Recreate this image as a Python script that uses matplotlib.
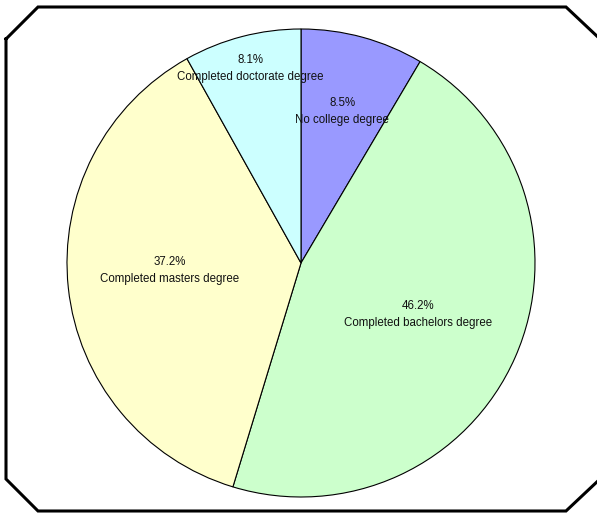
import numpy as np
import matplotlib.pyplot as plt
from matplotlib.lines import Line2D

labels = ['No college degree', 'Completed bachelors degree',
          'Completed masters degree', 'Completed doctorate degree']
shares = [8.5, 46.2, 37.2, 8.1]
colors = ['#9999FF', '#CCFFCC', '#FFFFCC', '#CCFFFF']
label_dist = [0.67, 0.548, 0.561, 0.859]
label_turn = [0, 0, -2.8, 0]  # small angular nudge, degrees

W, H = 597, 513
fig = plt.figure(figsize=(W / 100, H / 100), dpi=100)

# pie centred at (301, 263) px, radius 234 px
cx, cy, r = 301, 263, 234
ax = fig.add_axes([(cx - r) / W, (H - cy - r) / H, 2 * r / W, 2 * r / H])
wedges, _ = ax.pie(shares, colors=colors, startangle=90, counterclock=False,
                   radius=1, wedgeprops=dict(edgecolor='black', linewidth=0.8))
ax.set_xlim(-1, 1)
ax.set_ylim(-1, 1)
ax.set_aspect('auto')
ax.axis('off')

for w, lab, val, d, t in zip(wedges, labels, shares, label_dist, label_turn):
    ang = np.deg2rad((w.theta1 + w.theta2) / 2 + t)
    x, y = d * np.cos(ang), d * np.sin(ang)
    ax.text(x, y, f'{val:.1f}%\n{lab}', ha='center', va='center',
            fontsize=8.3, family='Liberation Sans', color='#111111',
            linespacing=1.6)

# octagonal frame around the chart (pixel coordinates, y from top)
L, T, R, B, c = 6, 7, 600, 511, 32
px = [L, L + c, R - c - 2, R, R, R - c - 2, L + c, L, L]
py = [T + c, T, T, T + c, B - c, B, B, B - c, T + c]
fig.add_artist(Line2D([x / W for x in px], [1 - y / H for y in py],
                      transform=fig.transFigure, color='black', linewidth=2.2,
                      solid_joinstyle='miter'))

fig.savefig('out.png', dpi=100)
